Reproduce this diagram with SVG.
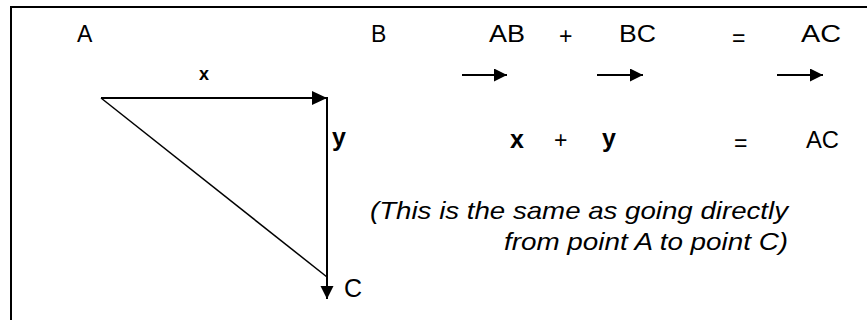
<svg xmlns="http://www.w3.org/2000/svg" width="867" height="320" viewBox="0 0 867 320">
<style>
text{font-family:"Liberation Sans",Arial,sans-serif;font-size:23px;fill:#000}
.b{font-weight:bold}
.i{font-style:italic;font-size:24px}
.ln{stroke:#000;stroke-width:2;fill:none}
</style>
<defs>
<marker id="ah" markerUnits="userSpaceOnUse" markerWidth="16" markerHeight="16" refX="15" refY="7" orient="auto">
<path d="M0,0 L15,7 L0,14 Z" fill="#000"/>
</marker>
<marker id="as" markerUnits="userSpaceOnUse" markerWidth="14" markerHeight="14" refX="13" refY="6.5" orient="auto">
<path d="M0,0 L13,6.5 L0,13 Z" fill="#000"/>
</marker>
</defs>
<rect width="867" height="320" fill="#fff"/>
<path class="ln" d="M11,320 V7 H867"/>
<g id="connectors">
<line class="ln" x1="101" y1="98" x2="327" y2="98" marker-end="url(#ah)"/>
<line class="ln" x1="327" y1="97" x2="327" y2="299" marker-end="url(#as)"/>
<line x1="101" y1="98" x2="327" y2="277" stroke="#000" stroke-width="1.5"/>
<line class="ln" x1="462" y1="75" x2="507" y2="75" marker-end="url(#as)"/>
<line class="ln" x1="597" y1="75" x2="643" y2="75" marker-end="url(#as)"/>
<line class="ln" x1="777" y1="75" x2="823" y2="75" marker-end="url(#as)"/>
</g>
<g id="pointA"><text x="77" y="42">A</text></g>
<g id="pointB"><text x="371" y="42">B</text></g>
<g id="pointC"><text x="344" y="297" style="font-size:25px">C</text></g>
<g id="labelX"><text class="b" x="199" y="80" style="font-size:18px">x</text></g>
<g id="labelY"><text class="b" x="332" y="146" style="font-size:25px">y</text></g>
<g id="eq1">
<text x="489" y="42" textLength="36" lengthAdjust="spacingAndGlyphs">AB</text>
<text x="559" y="44">+</text>
<text x="619" y="42" textLength="37" lengthAdjust="spacingAndGlyphs">BC</text>
<text x="732" y="46">=</text>
<text x="801" y="42" textLength="40" lengthAdjust="spacingAndGlyphs">AC</text>
</g>
<g id="eq2">
<text class="b" x="510" y="148" style="font-size:25px">x</text>
<text x="554" y="148">+</text>
<text class="b" x="602" y="147" style="font-size:25px">y</text>
<text x="734" y="151">=</text>
<text x="806" y="148" textLength="33" lengthAdjust="spacingAndGlyphs">AC</text>
</g>
<g id="note">
<text class="i" x="370" y="219" textLength="418" lengthAdjust="spacingAndGlyphs">(This is the same as going directly</text>
<text class="i" x="504" y="250" textLength="284" lengthAdjust="spacingAndGlyphs">from point A to point C)</text>
</g>
</svg>
